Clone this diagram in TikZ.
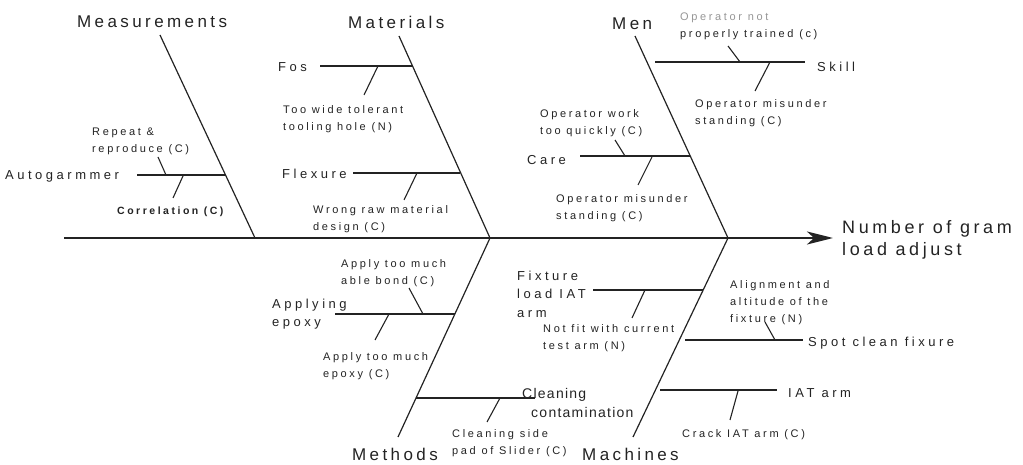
\documentclass[tikz,border=0pt]{standalone}
\usepackage{fontspec}
\setmainfont{Liberation Sans}
\usetikzlibrary{arrows.meta}
\newfontfamily\bigfont[LetterSpace=20]{Liberation Sans}
\newfontfamily\medfont[LetterSpace=27]{Liberation Sans}
\newfontfamily\smfont[LetterSpace=24]{Liberation Sans}
\newfontfamily\clfont[LetterSpace=9]{Liberation Sans}
\definecolor{ink}{RGB}{35,35,35}
\definecolor{faint}{RGB}{150,150,150}
\begin{document}
\begin{tikzpicture}[x=1pt,y=-1pt,
  bone/.style={line width=1.2pt, draw=ink},
  sub/.style={line width=1.1pt, draw=ink},
  spine/.style={line width=2.6pt, draw=ink, -{Stealth[length=26pt,width=13pt,inset=7pt]}},
  cat/.style={font=\bigfont\fontsize{17}{20}\selectfont, inner sep=0pt, text=ink, anchor=base west},
  cause/.style={font=\medfont\fontsize{13}{18.5}\selectfont, inner sep=0pt, text=ink, align=left},
  why/.style={font=\smfont\fontsize{11}{17}\selectfont, inner sep=0pt, text=ink, align=left},
  effect/.style={font=\bigfont\fontsize{18}{22}\selectfont, inner sep=0pt, text=ink, align=left, anchor=north west}]
\useasboundingbox (0,0) rectangle (1023,465);
% ---- spine and main bones
\coordinate (tail) at (64,238);
\coordinate (head) at (833,238);
\coordinate (jMeas) at (255,238);
\coordinate (jMat) at (490,238);
\coordinate (jMen) at (728,238);
\coordinate (tMeas) at (160,35);
\coordinate (tMat) at (399,36);
\coordinate (tMen) at (635,36);
\coordinate (bMeth) at (398,437);
\coordinate (bMach) at (633,437);
\draw[spine] (tail) -- (head);
\draw[bone] (tMeas) -- (jMeas);
\draw[bone] (tMat) -- (jMat);
\draw[bone] (tMen) -- (jMen);
\draw[bone] (jMat) -- (bMeth);
\draw[bone] (jMen) -- (bMach);
% ---- category labels
\node[cat] (meas) at (77,28) {Measurements};
\node[cat] (mat) at (348,29) {Materials};
\node[cat] (men) at (612,30) {Men};
\node[cat] (meth) at (352,460) {Methods};
\node[cat] (mach) at (582,460) {Machines};
\node[effect] (eff) at (842,220) {Number of gram\\load adjust};
% ---- Measurements
\coordinate (autoA) at (137,175); \coordinate (autoB) at (225,175);
\draw[sub] (autoA) -- (autoB);
\node[cause, anchor=base west] (auto) at (5,180) {Autogarmmer};
\coordinate (repA) at (166,175); \coordinate (repB) at (158,157);
\draw[sub] (repA) -- (repB);
\node[why, anchor=north west] (rep) at (92,128) {Repeat \&\\reproduce (C)};
\coordinate (corA) at (183,176); \coordinate (corB) at (173,198);
\draw[sub] (corA) -- (corB);
\node[why, anchor=base west, font=\smfont\bfseries\fontsize{10.5}{17}\selectfont] (cor) at (117,215) {Correlation (C)};
% ---- Materials
\coordinate (fosA) at (320,66); \coordinate (fosB) at (413,66);
\draw[sub] (fosA) -- (fosB);
\node[cause, anchor=base west] (fos) at (278,72) {Fos};
\coordinate (twA) at (378,66); \coordinate (twB) at (364,95);
\draw[sub] (twA) -- (twB);
\node[why, anchor=north west] (tw) at (283,105) {Too wide tolerant\\tooling hole (N)};
\coordinate (flxA) at (353,173); \coordinate (flxB) at (460,173);
\draw[sub] (flxA) -- (flxB);
\node[cause, anchor=base west] (flx) at (282,179) {Flexure};
\coordinate (wrA) at (417,173); \coordinate (wrB) at (404,200);
\draw[sub] (wrA) -- (wrB);
\node[why, anchor=north west] (wr) at (313,205) {Wrong raw material\\design (C)};
% ---- Men
\coordinate (skA) at (655,62); \coordinate (skB) at (805,62);
\draw[sub] (skA) -- (skB);
\node[cause, anchor=base west] (sk) at (817,72) {Skill};
\coordinate (onA) at (740,62); \coordinate (onB) at (728,46);
\draw[sub] (onA) -- (onB);
\node[why, anchor=north west] (on) at (680,13) {\textcolor{faint}{Operator not}\\properly trained (c)};
\coordinate (omA) at (770,62); \coordinate (omB) at (755,91);
\draw[sub] (omA) -- (omB);
\node[why, anchor=north west] (om) at (695,99) {Operator misunder\\standing (C)};
\coordinate (caA) at (580,156); \coordinate (caB) at (690,156);
\draw[sub] (caA) -- (caB);
\node[cause, anchor=base west] (ca) at (527,165) {Care};
\coordinate (owA) at (625,156); \coordinate (owB) at (615,140);
\draw[sub] (owA) -- (owB);
\node[why, anchor=north west] (ow) at (540,109) {Operator work\\too quickly (C)};
\coordinate (om2A) at (652,157); \coordinate (om2B) at (638,185);
\draw[sub] (om2A) -- (om2B);
\node[why, anchor=north west] (om2) at (556,194) {Operator misunder\\standing (C)};
% ---- Methods
\coordinate (apA) at (335,314); \coordinate (apB) at (455,314);
\draw[sub] (apA) -- (apB);
\node[cause, anchor=north west] (ap) at (272,298.5) {Applying\\epoxy};
\coordinate (abA) at (423,314); \coordinate (abB) at (409,288);
\draw[sub] (abA) -- (abB);
\node[why, anchor=north west] (ab) at (341,259) {Apply too much\\able bond (C)};
\coordinate (aeA) at (389,314); \coordinate (aeB) at (375,340);
\draw[sub] (aeA) -- (aeB);
\node[why, anchor=north west] (ae) at (323,352) {Apply too much\\epoxy (C)};
\coordinate (clA) at (416,398); \coordinate (clB) at (535,398);
\draw[sub] (clA) -- (clB);
\node[cause, anchor=north west, font=\clfont\fontsize{14}{19}\selectfont] (cl) at (522,388) {Cleaning\\\hspace*{9pt}contamination};
\coordinate (csA) at (500,398); \coordinate (csB) at (487,422);
\draw[sub] (csA) -- (csB);
\node[why, anchor=north west] (cs) at (452,429) {Cleaning side\\pad of Slider (C)};
% ---- Machines
\coordinate (fxA) at (593,290); \coordinate (fxB) at (703,290);
\draw[sub] (fxA) -- (fxB);
\node[cause, anchor=north west] (fx) at (517,270.5) {Fixture\\load IAT\\arm};
\coordinate (nfA) at (645,290); \coordinate (nfB) at (632,318);
\draw[sub] (nfA) -- (nfB);
\node[why, anchor=north west] (nf) at (543,324) {Not fit with current\\test arm (N)};
\coordinate (scA) at (685,340); \coordinate (scB) at (803,340);
\draw[sub] (scA) -- (scB);
\node[cause, anchor=base west] (sc) at (808,346) {Spot clean fixure};
\coordinate (alA) at (775,340); \coordinate (alB) at (765,322);
\draw[sub] (alA) -- (alB);
\node[why, anchor=north west] (al) at (730,280) {Alignment and\\altitude of the\\fixture (N)};
\coordinate (iaA) at (660,390); \coordinate (iaB) at (777,390);
\draw[sub] (iaA) -- (iaB);
\node[cause, anchor=base west] (ia) at (788,397) {IAT arm};
\coordinate (crA) at (738,391); \coordinate (crB) at (730,420);
\draw[sub] (crA) -- (crB);
\node[why, anchor=base west] (cr) at (682,437) {Crack IAT arm (C)};
\end{tikzpicture}
\end{document}
